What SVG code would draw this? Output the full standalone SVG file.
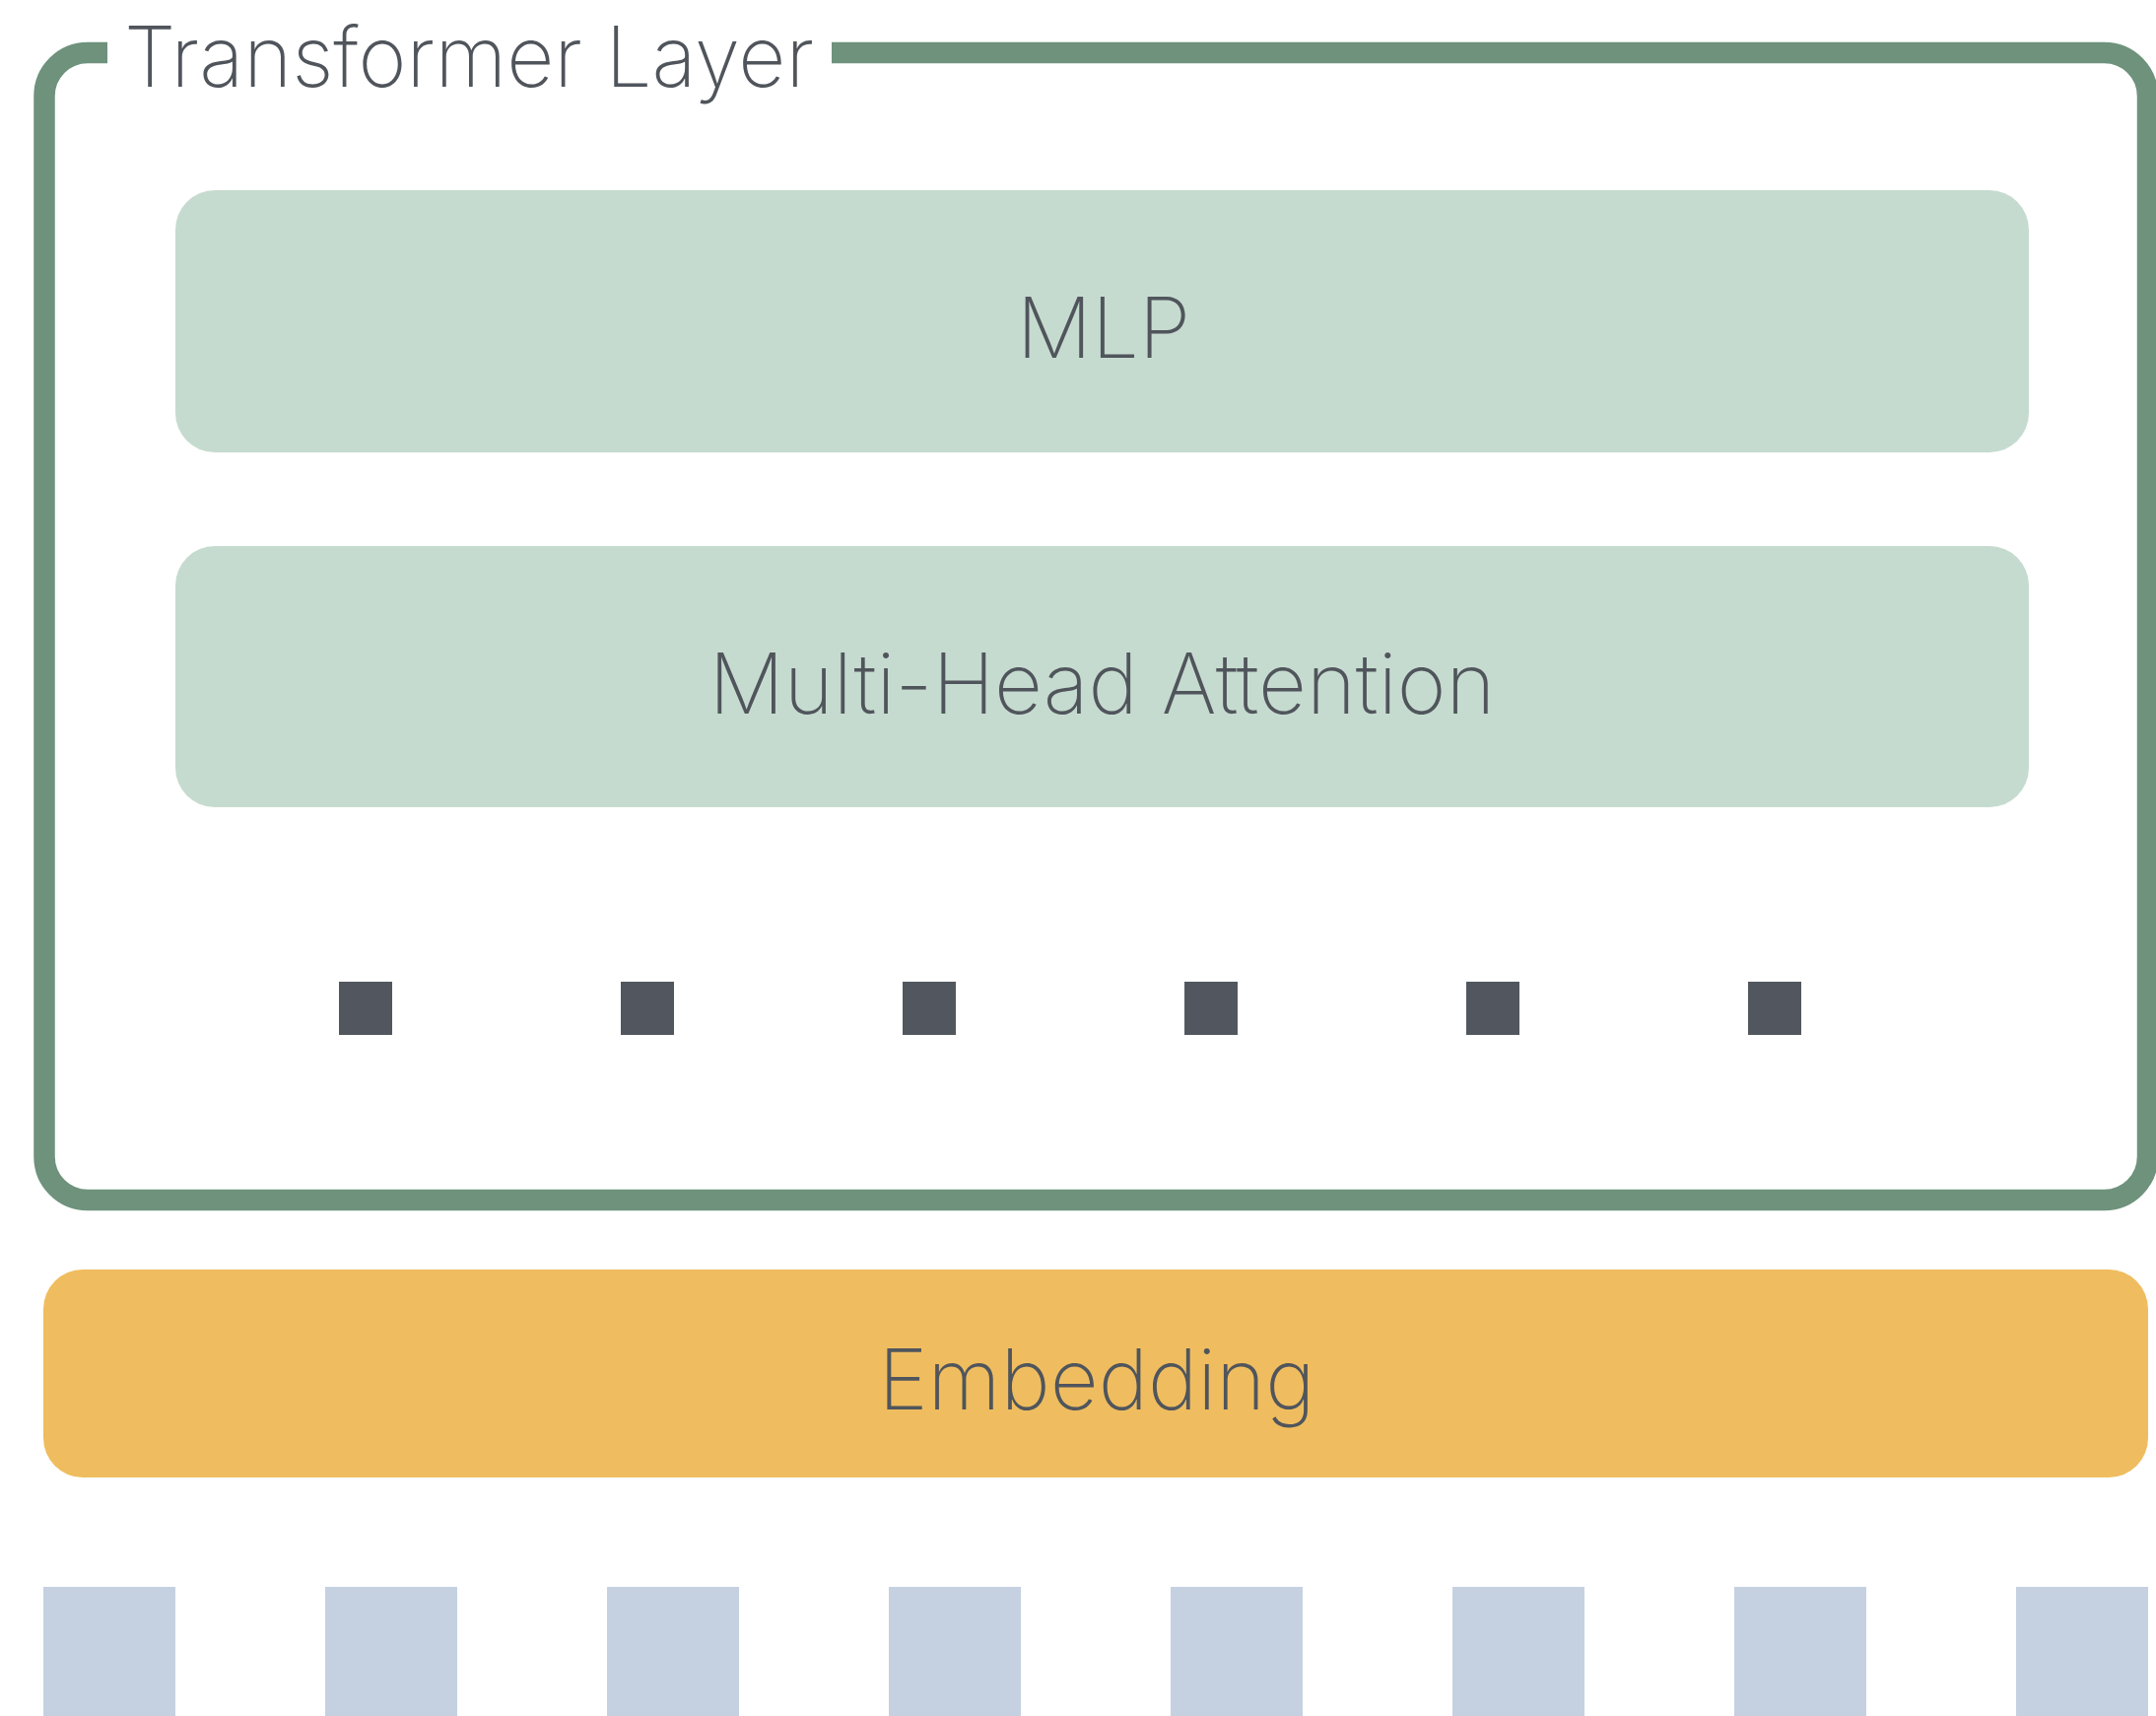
<svg xmlns="http://www.w3.org/2000/svg" width="2188" height="1741" viewBox="0 0 2188 1741">
  <style>
    .lbl { font-family: Inter, "Liberation Sans", sans-serif; font-weight: 250; font-size: 85px; fill: #50555C; }
    .block { fill: #C6DBCF; }
    .emb { fill: #EFBD5F; }
    .tok { fill: #C5D1E1; }
    .dot { fill: #52575F; }
    .frame { fill: none; stroke: #6E927C; stroke-width: 21.5; }
  </style>
  <rect width="2188" height="1741" fill="#FFFFFF"/>
  <g id="transformer-layer">
    <path class="frame" d="M 844 53.5 H 2135.5 A 44 44 0 0 1 2179.5 97.5 V 1173.5 A 44 44 0 0 1 2135.5 1217.5 H 89 A 44 44 0 0 1 45 1173.5 V 97.5 A 44 44 0 0 1 89 53.5 H 109"/>
    <text class="lbl" x="126" y="88" textLength="700" lengthAdjust="spacingAndGlyphs">Transformer Layer</text>
  </g>
  <g id="mlp">
    <rect class="block" x="178" y="193" width="1881" height="266" rx="40"/>
    <text class="lbl" x="1120" y="363" text-anchor="middle">MLP</text>
  </g>
  <g id="attention">
    <rect class="block" x="178" y="554" width="1881" height="265" rx="40"/>
    <text class="lbl" x="1118.5" y="724" text-anchor="middle">Multi-Head Attention</text>
  </g>
  <g id="hidden-states">
    <rect class="dot" x="344" y="996" width="54" height="54"/>
    <rect class="dot" x="630" y="996" width="54" height="54"/>
    <rect class="dot" x="916" y="996" width="54" height="54"/>
    <rect class="dot" x="1202" y="996" width="54" height="54"/>
    <rect class="dot" x="1488" y="996" width="54" height="54"/>
    <rect class="dot" x="1774" y="996" width="54" height="54"/>
  </g>
  <g id="embedding">
    <rect class="emb" x="44" y="1288" width="2136" height="211" rx="40"/>
    <text class="lbl" x="1113" y="1430" text-anchor="middle">Embedding</text>
  </g>
  <g id="tokens">
    <rect class="tok" x="44" y="1610" width="134" height="140"/>
    <rect class="tok" x="330" y="1610" width="134" height="140"/>
    <rect class="tok" x="616" y="1610" width="134" height="140"/>
    <rect class="tok" x="902" y="1610" width="134" height="140"/>
    <rect class="tok" x="1188" y="1610" width="134" height="140"/>
    <rect class="tok" x="1474" y="1610" width="134" height="140"/>
    <rect class="tok" x="1760" y="1610" width="134" height="140"/>
    <rect class="tok" x="2046" y="1610" width="134" height="140"/>
  </g>
  <g id="connectors"></g>
</svg>
